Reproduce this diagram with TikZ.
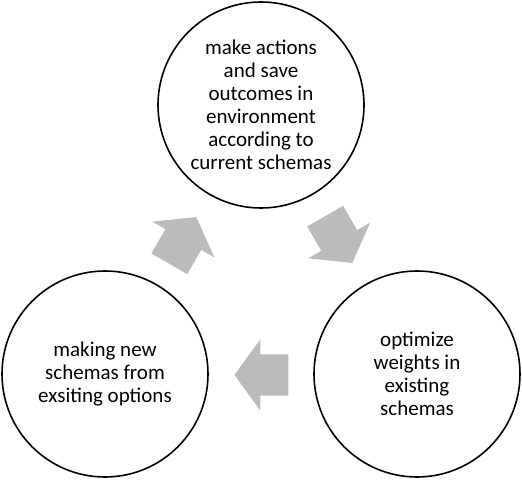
\documentclass[tikz,border=0pt]{standalone}
\usepackage{fontspec}
\setmainfont{Carlito}
\usepackage{tikz}
\usetikzlibrary{shapes.arrows}
\definecolor{mygray}{RGB}{187,187,187}
\newcommand{\sizestage}{206pt}
\newcommand{\lengtharrow}{54pt}
\newcommand{\widtharrow}{71pt}
\newcommand{\distarrow}{90}
\newcommand{\backarrow}{8}
\tikzset{
    stage/.style={draw, circle, line width=1.6pt, minimum size=\sizestage, inner sep=0pt, align=center,
        font=\fontsize{21}{22.9}\selectfont},
    cyclearrow/.style={single arrow, fill=mygray, inner xsep=0pt, inner ysep=20.5pt, minimum height=\lengtharrow,
        minimum width=\widtharrow, single arrow head extend=15pt, single arrow tip angle=108}
}

\begin{document}
\begin{tikzpicture}[x=1pt, y=1pt]
        \useasboundingbox (0,0) rectangle (522,480);

        \node[stage] (act) at (261,375) {make actions\\and save\\outcomes in\\environment\\according to\\current schemas};
        \node[stage] (opt) at (417,106) {optimize\\weights in\\existing\\schemas};
        \node[stage] (new) at (105,106) {making new\\schemas from\\exsiting options};

        \coordinate (mid) at (261,195);
        \node[cyclearrow, rotate=60] (new-act) at ([shift={(150:\distarrow)}, shift={(240:\backarrow)}]mid) {};
        \node[cyclearrow, rotate=-60] (act-opt) at ([shift={(30:\distarrow)}, shift={(120:\backarrow)}]mid) {};
        \node[cyclearrow, rotate=180] (opt-new) at ([shift={(270:\distarrow)}, shift={(0:\backarrow)}]mid) {};

    \end{tikzpicture}
\end{document}
